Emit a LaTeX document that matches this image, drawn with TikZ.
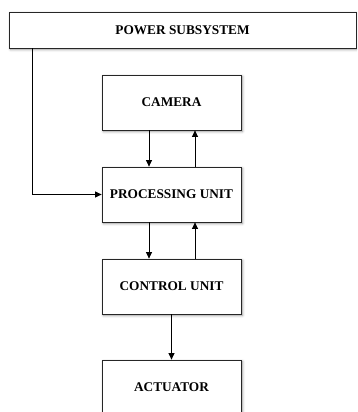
\documentclass[tikz,border=0pt]{standalone}
\usepackage{fontspec}
\setmainfont{Liberation Serif}
\usetikzlibrary{arrows.meta,shadows.blur}
\begin{document}
\begin{tikzpicture}[x=1pt,y=1pt,
  block/.style={draw=black!85, line width=0.8pt, fill=white,
    minimum width=139pt, minimum height=55pt, inner sep=0pt,
    font=\fontsize{13.3}{15}\selectfont\bfseries,
    blur shadow={shadow xshift=1.5pt, shadow yshift=-1.5pt,
      shadow blur radius=2.5pt, shadow opacity=40, shadow blur steps=6}},
  link/.style={draw=black, line width=0.8pt, -{Triangle[length=6.5pt,width=6pt]}}]
\useasboundingbox (0,0) rectangle (357,-412);
\begin{scope}
\clip (0,0) rectangle (357,-412);
% power rail across the top
\node[block, minimum width=347pt, minimum height=36pt] (pwr) at (182.5,-30) {POWER SUBSYSTEM};
% main chain of blocks
\node[block] (cam)  at (171.5,-102.5) {CAMERA};
\node[block] (proc) at (171.5,-194.5) {PROCESSING UNIT};
\node[block] (ctrl) at (171.5,-286.5) {CONTROL UNIT};
\node[block] (act)  at (171.5,-387.5) {ACTUATOR};
% data paths
\draw[link] ([xshift=-22.5pt]cam.south) -- ([xshift=-22.5pt]proc.north);
\draw[link] ([xshift=23.5pt]proc.north) -- ([xshift=23.5pt]cam.south);
\draw[link] ([xshift=-22.5pt]proc.south) -- ([xshift=-22.5pt]ctrl.north);
\draw[link] ([xshift=23.5pt]ctrl.north) -- ([xshift=23.5pt]proc.south);
\draw[link] (ctrl.south) -- (act.north);
% supply line
\draw[link] ([xshift=24pt]pwr.south west) |- (proc.west);
\end{scope}
\end{tikzpicture}
\end{document}
